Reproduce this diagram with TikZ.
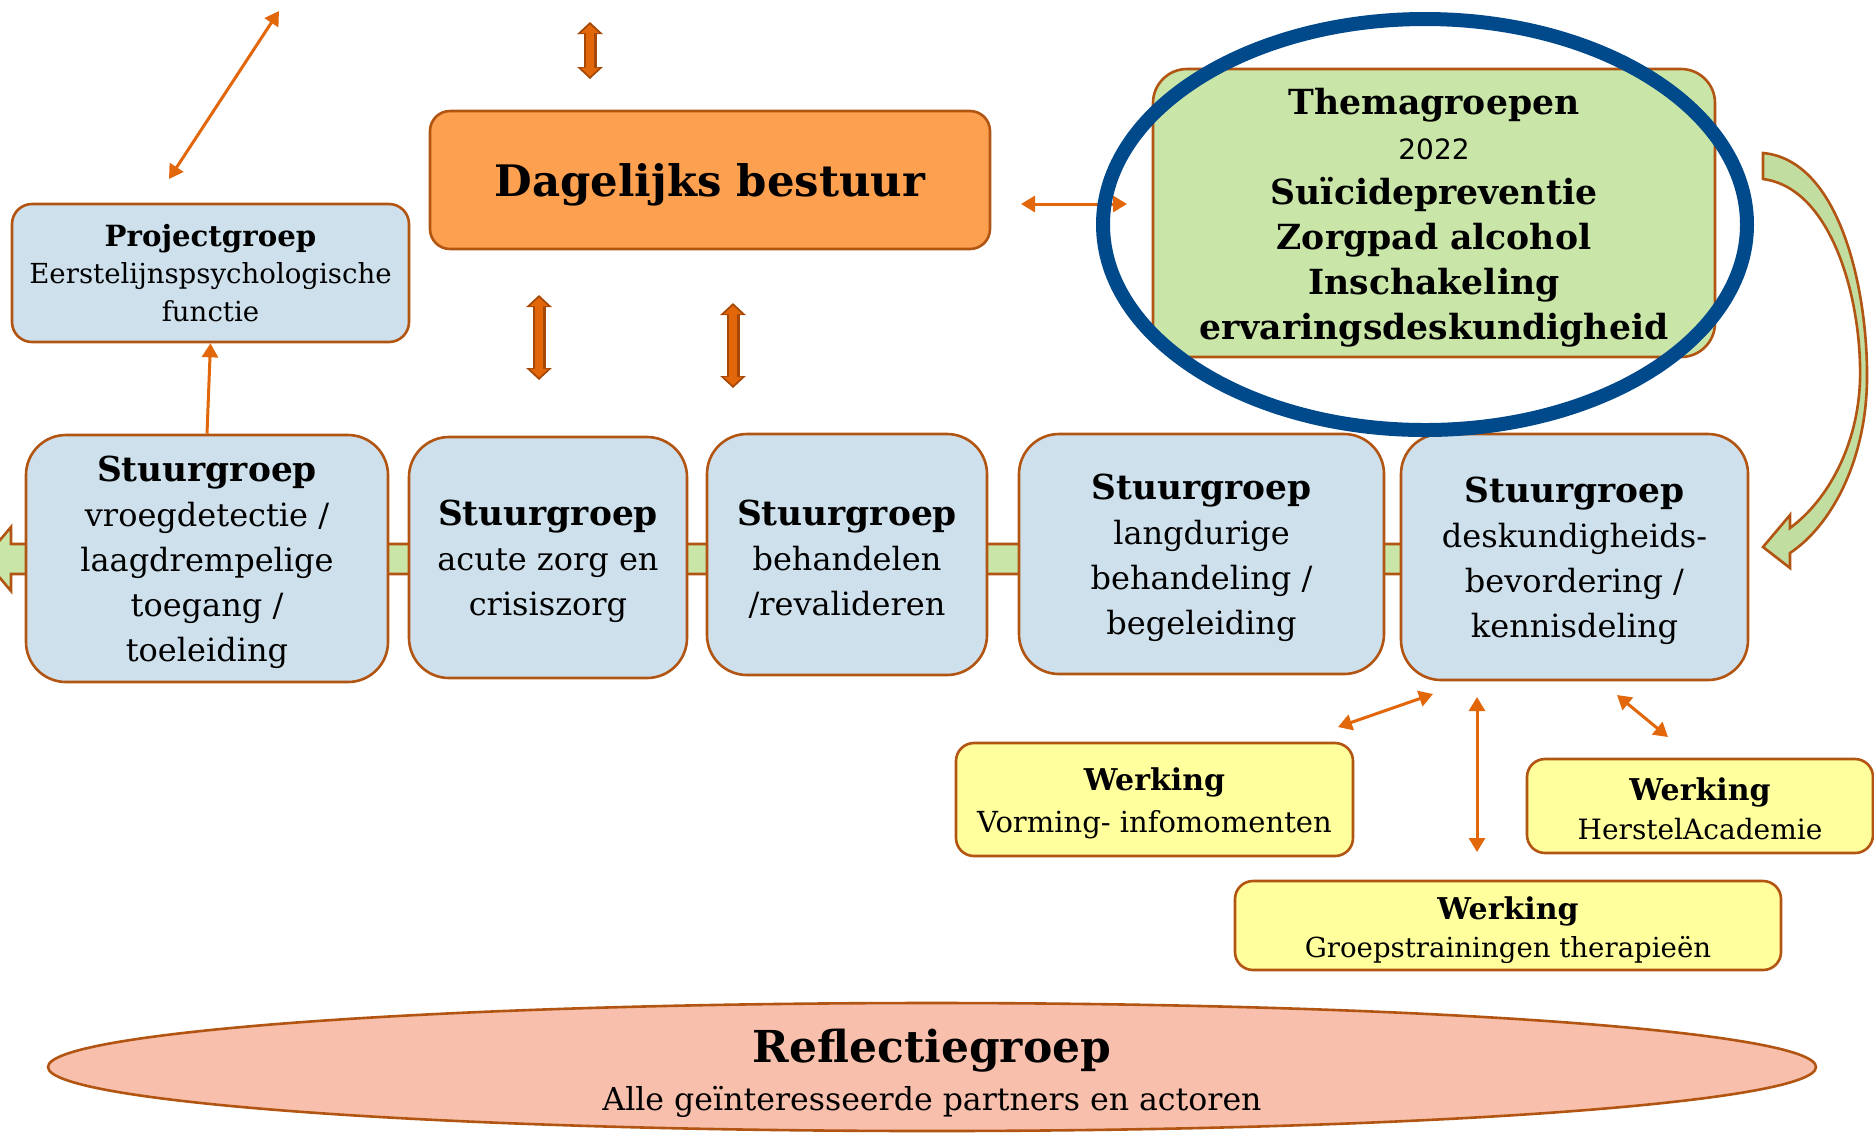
\documentclass[tikz,border=0pt]{standalone}
\usepackage{fontspec}
\setmainfont{DejaVu Serif}
\newfontfamily\yearfont{DejaVu Sans}
\usepackage{tikz}
\usetikzlibrary{calc,arrows.meta,positioning,shapes.geometric}
\definecolor{rim}{RGB}{178,84,18}
\definecolor{rimdark}{RGB}{165,72,5}
\definecolor{stuurblue}{RGB}{206,224,236}
\definecolor{dbfill}{RGB}{253,160,80}
\definecolor{themagreen}{RGB}{201,230,168}
\definecolor{curvegreen}{RGB}{194,221,160}
\definecolor{werkyellow}{RGB}{255,255,157}
\definecolor{reflpink}{RGB}{247,191,172}
\definecolor{ringblue}{RGB}{0,74,140}
\definecolor{arroworange}{RGB}{226,102,10}
\tikzset{box/.style={draw=rim,line width=1.3pt,align=center,inner sep=0pt}}
% bold heading with a strut on top
\newcommand\boxtitle[3]{{\fontsize{#1}{22.5pt}\selectfont\bfseries\rule{0pt}{#2}#3}}

\begin{document}
\begin{tikzpicture}[x=0.5pt,y=-0.5pt]

\tikzset{stuurnode/.style={box,fill=stuurblue,rounded corners=20pt,font=\fontsize{16pt}{22.5pt}\selectfont},
projnode/.style={box,fill=stuurblue,rounded corners=10pt,font=\fontsize{13.8pt}{18.8pt}\selectfont},
dbnode/.style={box,fill=dbfill,rounded corners=10pt,font=\fontsize{21.7pt}{26pt}\selectfont\bfseries},
themanode/.style={box,fill=themagreen,rounded corners=17pt,font=\fontsize{17.3pt}{22.5pt}\selectfont\bfseries},
werknode/.style={box,fill=werkyellow,rounded corners=9pt,font=\fontsize{14.5pt}{21pt}\selectfont},
reflnode/.style={box,fill=reflpink,shape=ellipse,minimum width=884pt,minimum height=64pt},
thinarrow/.style={draw=arroworange,line width=1.5pt,{Triangle[width=8pt,length=7pt]}-{Triangle[width=8pt,length=7pt]}},
bigarrowrim/.style={draw=rimdark,line width=6.5pt,{Triangle[width=12.5pt,length=6pt]}-{Triangle[width=12.5pt,length=6pt]}},
bigarrowfill/.style={draw=arroworange,line width=4pt,shorten <=1.3pt,shorten >=1.3pt,{Triangle[width=9pt,length=4.3pt]}-{Triangle[width=9pt,length=4.3pt]}}}

\useasboundingbox (0,0) rectangle (1874,1132);

% Band behind the steering groups
\draw[draw=rim,line width=1.3pt,fill=themagreen] (1500,544) -- (11,544) -- (11,527) -- (-16,559) -- (11,591) -- (11,574) -- (1500,574) -- cycle;

% Steering groups
\node[stuurnode,minimum width=181pt,minimum height=123.5pt] (sg1) at (207,558.5) {\boxtitle{17.2pt}{17pt}{Stuurgroep}\\vroegdetectie /\\laagdrempelige\\toegang /\\toeleiding};
\node[stuurnode,minimum width=139pt,minimum height=120.5pt] (sg2) at (548,557.5) {\boxtitle{17.2pt}{17pt}{Stuurgroep}\\acute zorg en\\crisiszorg};
\node[stuurnode,minimum width=140pt,minimum height=120.5pt] (sg3) at (847,554.5) {\boxtitle{17.2pt}{17pt}{Stuurgroep}\\behandelen\\/revalideren};
\node[stuurnode,minimum width=182.5pt,minimum height=120pt] (sg4) at (1201.5,554) {\boxtitle{17.2pt}{17pt}{Stuurgroep}\\langdurige\\behandeling /\\begeleiding};
\node[stuurnode,minimum width=173.5pt,minimum height=123pt] (sg5) at (1574.5,557) {\boxtitle{17.2pt}{17pt}{Stuurgroep}\\deskundigheids-\\bevordering /\\kennisdeling};

% Upper row
\node[projnode,minimum width=198.5pt,minimum height=69pt] (pg) at (210.5,273) {{\fontsize{14.6pt}{18.8pt}\selectfont\bfseries Projectgroep}\\Eerstelijnspsychologische\\functie};
\node[dbnode,minimum width=280pt,minimum height=69pt] (db) at (710,180) {\rule{0pt}{21.5pt}Dagelijks bestuur};
\node[themanode,minimum width=281pt,minimum height=144pt] (thema) at (1434,213) {\rule{0pt}{18pt}Themagroepen\\{\yearfont\mdseries\fontsize{14pt}{22.5pt}\selectfont 2022}\\Suïcidepreventie\\Zorgpad alcohol\\Inschakeling\\ervaringsdeskundigheid};

% Werkingen
\node[werknode,minimum width=198.5pt,minimum height=56.5pt] (wv) at (1154.5,799.5) {{\fontsize{15pt}{21pt}\selectfont\bfseries\rule{0pt}{15pt}Werking}\\Vorming- infomomenten};
\node[werknode,minimum width=173pt,minimum height=47pt,font=\fontsize{14pt}{19.5pt}\selectfont] (wh) at (1700,806) {{\fontsize{15pt}{19.5pt}\selectfont\bfseries\rule{0pt}{14pt}Werking}\\HerstelAcademie};
\node[werknode,minimum width=273pt,minimum height=44.5pt,font=\fontsize{13.8pt}{19pt}\selectfont] (wg) at (1508,925.5) {{\fontsize{15pt}{19pt}\selectfont\bfseries\rule{0pt}{16.5pt}Werking}\\Groepstrainingen therapieën};

% Reflection group
\node[reflnode] (refl) at (932,1067) {};
\node[align=center,font=\fontsize{15.8pt}{24pt}\selectfont] (refltxt) at ($(refl.center)+(0,6)$) {{\fontsize{22pt}{24pt}\selectfont\bfseries Reflectiegroep}\\Alle geïnteresseerde partners en actoren};

% Free ends of the arrows
\coordinate (tl1) at (279,11); \coordinate (tl2) at (169,179);
\coordinate (up1) at (590,22); \coordinate (up2) at (590,79);
\coordinate (sl1) at (539,295); \coordinate (sl2) at (539,380);
\coordinate (sr1) at (733,303); \coordinate (sr2) at (733,388);
\coordinate (hz1) at (1021,204); \coordinate (hz2) at (1127,204);
\coordinate (wa1) at (1433,694); \coordinate (wa2) at (1338,727);
\coordinate (wb1) at (1477,697); \coordinate (wb2) at (1477,852);
\coordinate (wc1) at (1617,695); \coordinate (wc2) at (1668,737);

% Thin arrows
\foreach \a/\b in {tl1/tl2,hz1/hz2,wa1/wa2,wb1/wb2,wc1/wc2} \draw[thinarrow] (\a) -- (\b);
\draw[draw=arroworange,line width=1.5pt,-{Triangle[width=8pt,length=7pt]}] (sg1.north) -- (pg.south);

% Thick arrows
\foreach \a/\b in {up1/up2,sl1/sl2,sr1/sr2} {
  \draw[bigarrowrim] (\a) -- (\b);
  \draw[bigarrowfill] (\a) -- (\b);
}

% Ring round the theme groups
\draw[ringblue,line width=7pt] (1425,224.5) ellipse [x radius=161pt,y radius=102.75pt];

% Curved arrow
\draw[draw=rim,line width=1.3pt,fill=curvegreen] (1763,153) .. controls (1840,160) and (1868,290) .. (1867,380) .. controls (1866,460) and (1832,525) .. (1790,553) -- (1790,568) -- (1763,547) -- (1790,515) -- (1790,528) .. controls (1828,500) and (1858,445) .. (1860,380) .. controls (1862,300) and (1832,188) .. (1763,179) -- cycle;

\end{tikzpicture}
\end{document}
